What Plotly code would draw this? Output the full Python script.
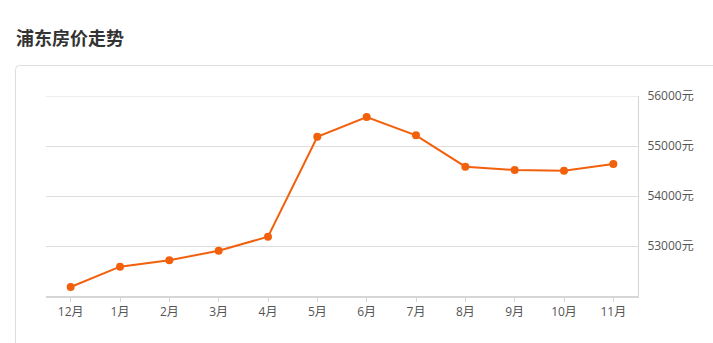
import plotly.graph_objects as go

months = ["12月", "1月", "2月", "3月", "4月", "5月", "6月", "7月", "8月", "9月", "10月", "11月"]
prices = [52180, 52586, 52714, 52906, 53186, 55186, 55580, 55214, 54586, 54520, 54506, 54640]
y_ticks = [53000, 54000, 55000, 56000]
y_tick_labels = ["53000元", "54000元", "55000元", "56000元"]
title_text = "浦东房价走势"

W, H = 713, 343
L, R, T, B = 46, 75, 96, 47
pw, ph = W - L - R, H - T - B

def px(x):
    return (x - L) / pw

def py(y):
    return (H - B - y) / ph

fig = go.Figure()
fig.add_trace(go.Scatter(
    x=months, y=prices, mode="lines+markers",
    line=dict(color="#f2600c", width=2),
    marker=dict(color="#f2600c", size=8),
    hoverinfo="x+y",
))

# card outline with rounded top-left corner
x0, y0 = px(15.5), py(65.5)
x1, y1 = px(760), py(380)
rx, ry = 4 / pw, 4 / ph
path = (f"M {x0},{y1} L {x0},{y0 - ry} Q {x0},{y0} {x0 + rx},{y0} "
        f"L {x1},{y0}")
fig.add_shape(type="path", xref="paper", yref="paper", path=path,
              line=dict(color="#dddddd", width=1), layer="below")

# top gridline (at range edge)
fig.add_shape(type="line", xref="paper", yref="y", x0=0, x1=1,
              y0=y_ticks[-1], y1=y_ticks[-1],
              line=dict(color="#dddddd", width=1), layer="below")

fig.add_annotation(text=f"<b>{title_text}</b>", xref="paper", yref="paper",
                   x=px(14), y=py(37), xanchor="left", yanchor="middle",
                   showarrow=False,
                   font=dict(family="Noto Sans CJK SC", size=18, color="#333333"))

fig.update_layout(
    width=W, height=H,
    margin=dict(l=L, r=R, t=T, b=B),
    paper_bgcolor="white", plot_bgcolor="white",
    showlegend=False,
    font=dict(family="Open Sans, Noto Sans CJK SC", size=12, color="#555555"),
    xaxis=dict(
        type="category", range=[-0.5, len(months) - 0.5],
        showgrid=False, zeroline=False,
        showline=True, linecolor="#d6d6d6", linewidth=2,
        ticks="outside", ticklen=4, tickcolor="#d6d6d6", tickwidth=1,
        tickfont=dict(size=12, color="#555555"),
        fixedrange=True,
    ),
    yaxis=dict(
        side="right", range=[52000, 56000],
        tickvals=y_ticks, ticktext=y_tick_labels,
        showgrid=True, gridcolor="#dddddd", gridwidth=1,
        zeroline=False,
        showline=True, linecolor="#d6d6d6", linewidth=1,
        ticks="", ticklabelstandoff=6,
        tickfont=dict(size=12, color="#555555"),
        fixedrange=True,
    ),
)

fig.write_html("out.html", config={"displayModeBar": False})
